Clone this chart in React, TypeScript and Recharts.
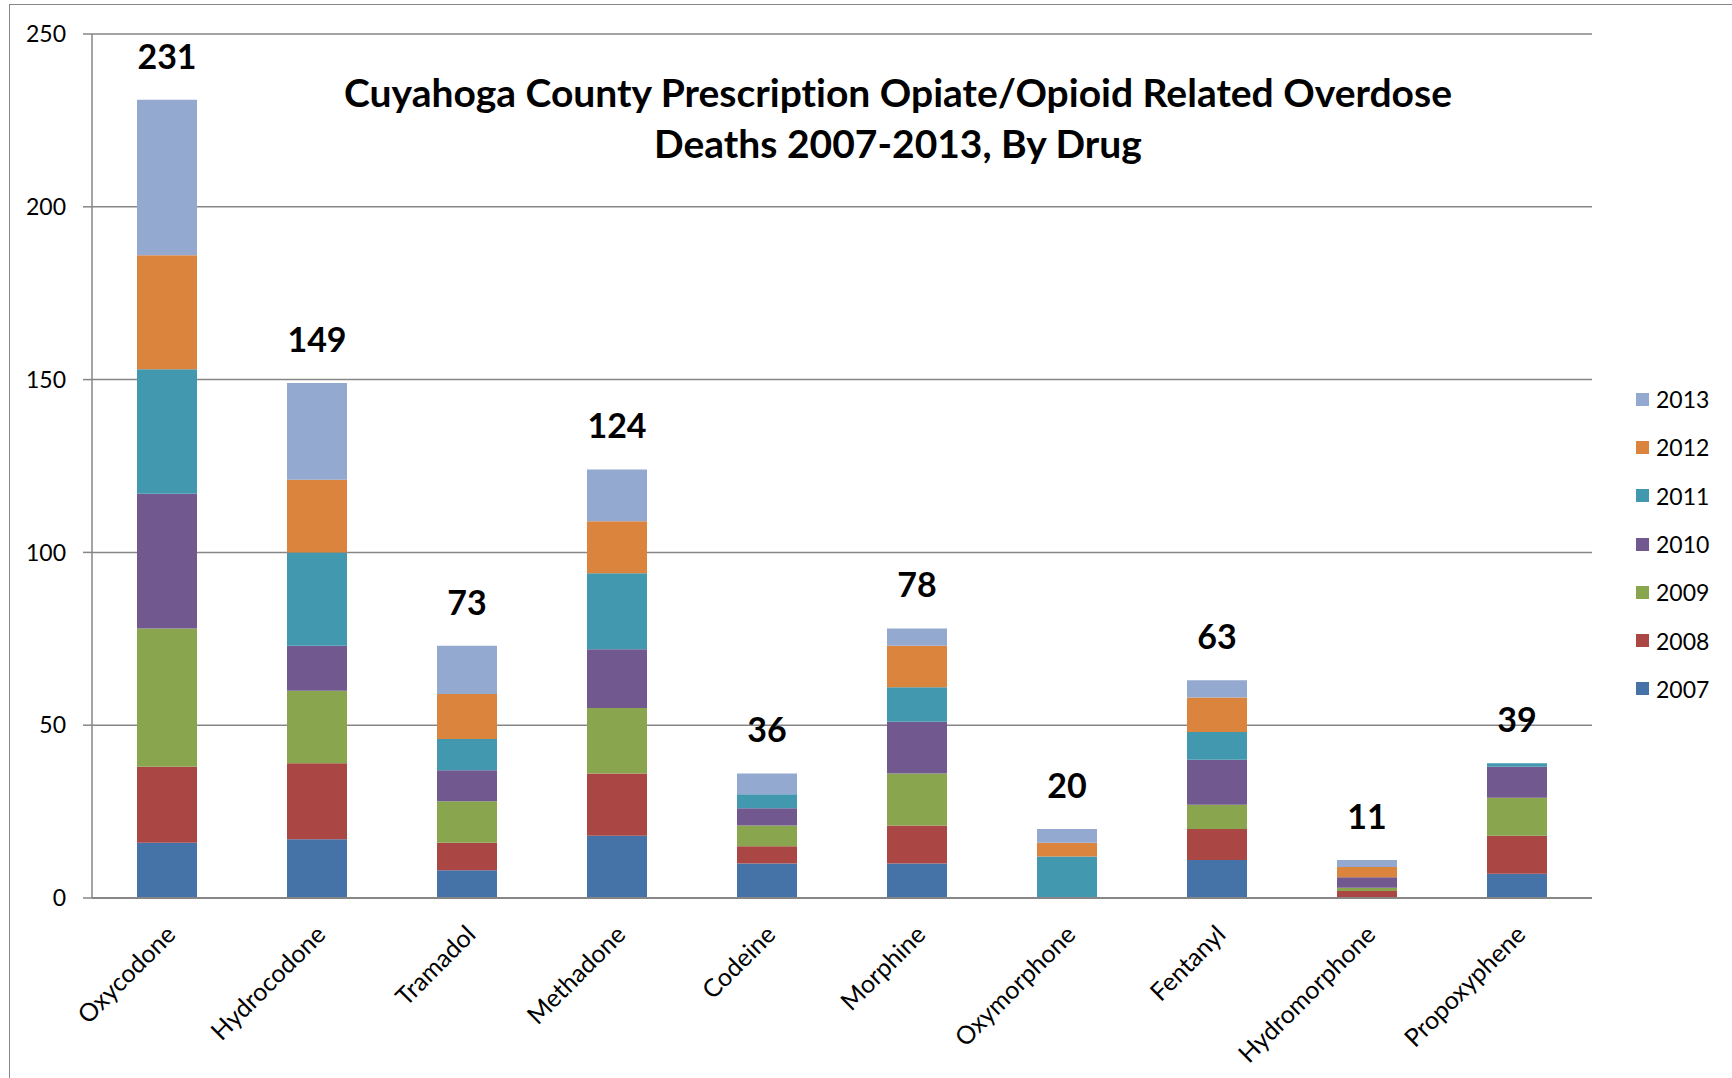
import React from 'react';
import {
  ComposedChart, Bar, Line, XAxis, YAxis, CartesianGrid, LabelList,
} from 'recharts';

const drugs = [
  'Oxycodone', 'Hydrocodone', 'Tramadol', 'Methadone', 'Codeine',
  'Morphine', 'Oxymorphone', 'Fentanyl', 'Hydromorphone', 'Propoxyphene',
];

const y2007 = [16, 17, 8, 18, 10, 10, 0, 11, 0, 7];
const y2008 = [22, 22, 8, 18, 5, 11, 0, 9, 2, 11];
const y2009 = [40, 21, 12, 19, 6, 15, 0, 7, 1, 11];
const y2010 = [39, 13, 9, 17, 5, 15, 0, 13, 3, 9];
const y2011 = [36, 27, 9, 22, 4, 10, 12, 8, 0, 1];
const y2012 = [33, 21, 13, 15, 0, 12, 4, 10, 3, 0];
const y2013 = [45, 28, 14, 15, 6, 5, 4, 5, 2, 0];

const yTicks = [0, 50, 100, 150, 200, 250];
const boundaryTicks = [0, 1, 2, 3, 4, 5, 6, 7, 8, 9, 10];

const series = [
  { key: '2007', values: y2007, color: '#4572A7' },
  { key: '2008', values: y2008, color: '#AA4643' },
  { key: '2009', values: y2009, color: '#89A54E' },
  { key: '2010', values: y2010, color: '#71588F' },
  { key: '2011', values: y2011, color: '#4198AF' },
  { key: '2012', values: y2012, color: '#DB843D' },
  { key: '2013', values: y2013, color: '#93A9CF' },
];

const data = drugs.map((drug, i) => {
  const row: Record<string, number | string> = { drug, pos: i + 0.5 };
  let total = 0;
  series.forEach((s) => {
    row[s.key] = s.values[i];
    total += s.values[i];
  });
  row.total = total;
  return row;
});

const FONT = 'Lato, "Open Sans", sans-serif';
const GRID = '#868686';

function DrugTick(props: any) {
  const { x, y, payload } = props;
  const ax = x + 4;
  const ay = y + 2;
  return (
    <text
      x={ax}
      y={ay}
      dy="0.35em"
      textAnchor="end"
      transform={`rotate(-45, ${ax}, ${ay})`}
      fontSize={25}
      fontFamily={FONT}
      fill="#000"
    >
      {payload.value}
    </text>
  );
}

function TotalLabel(props: any) {
  const { x, y, value } = props;
  return (
    <text
      x={x}
      y={y - 43}
      dy="0.35em"
      textAnchor="middle"
      fontSize={34}
      fontWeight={700}
      fontFamily={FONT}
      fill="#000"
    >
      {value}
    </text>
  );
}

const titleStyle: React.CSSProperties = {
  position: 'absolute', left: 898, transform: 'translate(-50%, -50%)',
  width: 1400, textAlign: 'center', fontWeight: 700, fontSize: 39,
  lineHeight: '52px', color: '#000', fontVariantLigatures: 'none',
  whiteSpace: 'nowrap',
};

export default function App() {
  return (
    <div
      style={{
        position: 'absolute', left: 0, top: 0, width: 1732, height: 1078,
        overflow: 'hidden', background: '#fff', fontFamily: FONT,
      }}
    >
      <div
        style={{
          position: 'absolute', left: 9, top: 4, width: 1900, height: 1200,
          border: `1px solid ${GRID}`,
        }}
      />
      <ComposedChart
        width={1732}
        height={1078}
        data={data}
        margin={{ top: 34, right: 140, bottom: 120, left: 32 }}
        barSize={60}
        style={{ position: 'absolute', left: 0, top: 0 }}
      >
        <CartesianGrid vertical={false} stroke={GRID} strokeWidth={1.5} />
        <XAxis
          xAxisId="bound"
          dataKey="pos"
          type="number"
          domain={[0, 10]}
          ticks={boundaryTicks}
          allowDataOverflow
          tick={false}
          axisLine={{ stroke: GRID, strokeWidth: 2 }}
          tickLine={{ stroke: GRID, strokeWidth: 1.5 }}
          tickSize={9}
          height={30}
        />
        <XAxis
          xAxisId="cat"
          dataKey="drug"
          interval={0}
          tick={<DrugTick />}
          tickLine={false}
          tickSize={0}
          tickMargin={0}
          axisLine={false}
          height={30}
        />
        <YAxis
          domain={[0, 250]}
          ticks={yTicks}
          width={60}
          tickSize={9}
          tickMargin={17}
          axisLine={{ stroke: GRID, strokeWidth: 1.5 }}
          tickLine={{ stroke: GRID, strokeWidth: 1.5 }}
          tick={{ fill: '#000', fontSize: 23, fontFamily: FONT }}
        />
        {series.map((s) => (
          <Bar
            key={s.key}
            xAxisId="cat"
            dataKey={s.key}
            stackId="a"
            fill={s.color}
            isAnimationActive={false}
          />
        ))}
        <Line
          xAxisId="cat"
          dataKey="total"
          stroke="none"
          dot={false}
          activeDot={false}
          legendType="none"
          isAnimationActive={false}
        >
          <LabelList dataKey="total" content={<TotalLabel />} />
        </Line>
      </ComposedChart>
      <div style={{ ...titleStyle, top: 92 }}>
        Cuyahoga County Prescription Opiate/Opioid Related Overdose
      </div>
      <div style={{ ...titleStyle, top: 143 }}>
        Deaths 2007-2013, By Drug
      </div>
      <div style={{ position: 'absolute', left: 1636, top: 375 }}>
        {[...series].reverse().map((s) => (
          <div
            key={s.key}
            style={{ display: 'flex', alignItems: 'center', height: 48.3, fontSize: 23, color: '#000' }}
          >
            <span style={{ width: 13, height: 13, background: s.color, marginRight: 7 }} />
            <span>{s.key}</span>
          </div>
        ))}
      </div>
    </div>
  );
}
